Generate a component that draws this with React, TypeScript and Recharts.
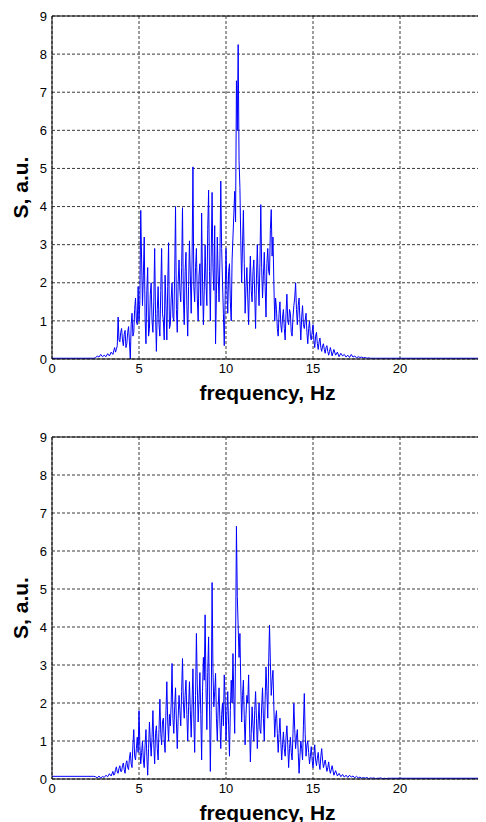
import React from "react";
import { LineChart, Line, XAxis, YAxis, CartesianGrid, ReferenceLine } from "recharts";

// Sampling grid: three segments (start Hz, step Hz)
const segStarts = [2.5, 3.5, 16.0];
const segSteps = [0.1, 0.05, 0.1];

// Upper spectrum S (a.u.)
const topSeg1 = [0.03, 0.08, 0.05, 0.12, 0.06, 0.1, 0.06, 0.14, 0.08, 0.18];
const topSeg2 = [
  0.12, 0.22, 0.3, 0.18, 0.25, 0.35, 1.1, 0.5, 0.45, 0.7,
  0.8, 0.5, 0.35, 0.65, 0.75, 0.3, 0.4, 0.7, 0.85, 0.45, 0.0, 0.9, 1.2, 0.6, 0.7, 1.3, 1.6, 1.0, 0.9, 1.9,
  1.0, 1.5, 3.9, 2.6, 1.4, 2.2, 3.2, 1.1, 0.4, 1.8, 2.4, 0.6, 0.8, 1.7, 2.0, 1.0, 0.7, 1.5, 2.9, 1.2,
  0.2, 1.3, 1.9, 0.9, 0.6, 1.8, 2.9, 1.2, 1.0, 0.5, 2.2, 1.4, 0.5, 1.9, 3.05, 0.8, 0.9, 1.6, 2.0, 1.1,
  1.0, 2.2, 4.0, 1.3, 0.7, 2.0, 2.6, 1.8, 1.5, 2.4, 3.97, 1.6, 0.9, 2.3, 2.8, 1.4, 0.6, 1.9, 3.1, 2.2,
  1.2, 2.6, 5.04, 1.9, 1.5, 2.4, 2.9, 1.6, 1.0, 2.2, 2.5, 1.4, 3.83, 2.1, 0.9, 1.8, 3.0, 2.0, 1.4, 3.4,
  4.43, 2.3, 1.0, 2.7, 4.37, 2.4, 1.8, 3.5, 0.4, 1.7, 3.2, 2.2, 1.5, 2.6, 4.67, 2.9, 2.0, 1.2, 0.35, 1.6,
  2.9, 1.9, 1.2, 2.3, 2.5, 1.5, 1.0, 2.6, 3.2, 3.8, 4.4, 3.6, 7.3, 6.0, 8.25, 5.2, 4.5, 3.1, 2.0, 3.0,
  3.9, 2.5, 1.2, 1.9, 2.4, 1.6, 0.9, 2.0, 2.7, 1.8, 1.5, 2.3, 2.6, 1.7, 0.8, 2.1, 3.0, 2.0, 1.4, 2.5,
  4.05, 2.4, 1.6, 2.2, 2.8, 1.9, 1.1, 2.5, 2.9, 2.3, 2.2, 3.4, 3.92, 2.7, 3.2, 2.0, 1.0, 1.6, 1.3, 0.8,
  0.6, 1.2, 1.5, 0.9, 0.7, 1.1, 1.3, 0.8, 0.5, 1.2, 1.7, 1.0, 0.9, 1.3, 1.2, 0.7, 0.6, 1.1, 1.4, 1.6,
  2.0, 1.3, 0.9, 1.4, 1.6, 1.0, 0.5, 1.1, 1.4, 0.9, 0.8, 1.0, 1.2, 0.7, 0.4, 0.8, 1.0, 0.6, 0.5, 0.7,
  0.9, 0.5, 0.3, 0.6, 0.7, 0.4, 0.25, 0.45, 0.55, 0.3, 0.2, 0.35, 0.4, 0.25, 0.15, 0.3, 0.35, 0.2, 0.1, 0.2,
];
const topSeg3 = [
  0.3, 0.08, 0.25, 0.1, 0.18, 0.06, 0.15, 0.08, 0.12, 0.05,
  0.1, 0.04, 0.12, 0.05, 0.08, 0.03, 0.06, 0.04, 0.05, 0.03,
  0.04, 0.02, 0.03, 0.02, 0.02, 0.02, 0.02, 0.02, 0.02, 0.02,
  0.02, 0.02, 0.02, 0.02, 0.02, 0.02,
];

// Lower spectrum S (a.u.)
const bottomSeg1 = [0.06, 0.03, 0.08, 0.02, 0.07, 0.04, 0.1, 0.06, 0.14, 0.08];
const bottomSeg2 = [
  0.2, 0.1, 0.12, 0.25, 0.32, 0.18, 0.15, 0.28, 0.35, 0.2,
  0.2, 0.35, 0.42, 0.25, 0.15, 0.4, 0.48, 0.3, 0.25, 0.55, 0.7, 0.4, 0.3, 0.9, 1.3, 0.6, 0.5, 0.8, 1.1, 0.7,
  1.8, 0.9, 0.4, 0.7, 1.0, 0.5, 0.3, 0.9, 1.3, 0.6, 0.1, 0.8, 1.5, 1.0, 0.6, 1.1, 1.8, 0.9, 0.4, 1.2,
  1.4, 0.8, 0.5, 1.3, 2.1, 1.2, 0.9, 1.5, 1.6, 1.0, 0.7, 1.8, 2.56, 1.5, 1.0, 1.7, 1.4, 2.0, 3.04, 1.6,
  1.2, 1.9, 2.4, 1.5, 0.8, 1.6, 2.2, 1.8, 1.4, 2.3, 3.17, 2.0, 1.6, 2.2, 2.6, 1.7, 1.0, 1.9, 2.56, 1.8,
  1.1, 2.0, 2.9, 1.6, 0.7, 2.2, 3.83, 2.5, 1.5, 2.1, 2.8, 1.7, 0.5, 2.3, 3.2, 2.6, 4.32, 2.4, 1.3, 2.8,
  3.74, 2.0, 0.2, 1.8, 5.17, 2.9, 1.9, 2.3, 2.78, 1.6, 1.0, 1.9, 2.4, 1.5, 0.8, 1.7, 2.0, 1.4, 2.74, 2.1,
  1.0, 1.7, 2.3, 1.4, 0.6, 1.8, 2.6, 2.0, 3.3, 2.1, 1.2, 3.5, 6.65, 4.8, 4.0, 3.2, 3.83, 2.5, 1.5, 2.2,
  2.6, 1.6, 0.9, 1.7, 2.2, 2.0, 2.74, 1.5, 0.45, 1.2, 1.9, 1.4, 1.0, 1.8, 2.3, 1.6, 0.8, 1.5, 2.0, 1.3,
  1.2, 1.9, 2.4, 1.6, 1.0, 2.1, 2.95, 2.3, 1.6, 3.0, 4.05, 3.1, 2.2, 2.6, 2.86, 1.9, 1.1, 1.6, 1.8, 1.2,
  0.7, 1.2, 1.6, 1.0, 0.5, 0.9, 1.24, 0.8, 0.6, 1.1, 1.4, 0.9, 0.3, 0.8, 1.1, 0.7, 0.5, 1.2, 1.99, 1.3,
  0.8, 1.1, 1.3, 0.7, 0.15, 0.6, 1.0, 0.8, 0.5, 1.4, 2.25, 1.2, 0.6, 0.9, 1.0, 0.7, 0.4, 0.6, 0.85, 0.5,
  0.3, 0.6, 0.9, 0.5, 0.35, 0.55, 0.7, 0.4, 0.25, 0.6, 0.8, 0.5, 0.3, 0.4, 0.5, 0.35, 0.2, 0.3, 0.45, 0.25,
];
const bottomSeg3 = [
  0.15, 0.35, 0.1, 0.22, 0.08, 0.15, 0.06, 0.12, 0.05, 0.1,
  0.04, 0.1, 0.05, 0.08, 0.03, 0.07, 0.03, 0.05, 0.02, 0.04,
  0.02, 0.04, 0.01, 0.03, 0.02, 0.03, 0.01, 0.02, 0.02, 0.03,
  0.01, 0.02, 0.01, 0.02, 0.02, 0.02,
];

// Flat parts of each spectrum outside the sampled grid
const topLeadFreq = [0, 2.4];
const topLeadS = [0.02, 0.02];
const topTailFreq = [25];
const topTailS = [0.02];
const bottomLeadFreq = [0, 2.4];
const bottomLeadS = [0.07, 0.07];
const bottomTailFreq = [25];
const bottomTailS = [0.02];

const xTicks = [0, 5, 10, 15, 20, 25];
const yTicks = [0, 1, 2, 3, 4, 5, 6, 7, 8, 9];
const xTitle = "frequency, Hz";
const yTitle = "S, a.u.";

type Row = { f: number; s: number };

function buildRows(leadF: number[], leadS: number[], segs: number[][], tailF: number[], tailS: number[]) {
  const rows: Row[] = [];
  leadF.forEach((f, i) => rows.push({ f, s: leadS[i] }));
  segs.forEach((vals, k) => {
    vals.forEach((s, i) => rows.push({ f: Math.round((segStarts[k] + i * segSteps[k]) * 100) / 100, s }));
  });
  tailF.forEach((f, i) => rows.push({ f, s: tailS[i] }));
  return rows;
}

const topRows = buildRows(topLeadFreq, topLeadS, [topSeg1, topSeg2, topSeg3], topTailFreq, topTailS);
const bottomRows = buildRows(bottomLeadFreq, bottomLeadS, [bottomSeg1, bottomSeg2, bottomSeg3], bottomTailFreq, bottomTailS);

const FONT = "'Liberation Sans', Arial, sans-serif";

const YTitle = (props: any) => {
  const vb = props.viewBox || { x: 0, y: 0, width: 0, height: 0 };
  const cy = vb.y + vb.height / 2;
  const cx = 12;
  return (
    <text
      x={cx}
      y={cy}
      transform={`rotate(-90, ${cx}, ${cy})`}
      textAnchor="middle"
      dominantBaseline="central"
      fontFamily={FONT}
      fontWeight="bold"
      fontSize={21}
      fill="#000"
    >
      {yTitle}
    </text>
  );
};

const XTitle = (props: any) => {
  const vb = props.viewBox || { x: 0, y: 0, width: 0, height: 0 };
  return (
    <text
      x={vb.x + vb.width / 2 - 2}
      y={vb.y + 33}
      textAnchor="middle"
      dominantBaseline="central"
      fontFamily={FONT}
      fontWeight="bold"
      fontSize={21}
      fill="#000"
    >
      {xTitle}
    </text>
  );
};

function Spectrum({ rows, height, margin }: { rows: Row[]; height: number; margin: any }) {
  return (
    <LineChart width={500} height={height} data={rows} margin={margin} style={{ overflow: "visible" }}>
      <CartesianGrid stroke="#3a3a3a" strokeDasharray="3 2" horizontal vertical />
      <XAxis
        dataKey="f"
        type="number"
        domain={[0, 25]}
        ticks={xTicks}
        interval={0}
        height={40}
        tickSize={0}
        tickMargin={5}
        axisLine={{ stroke: "#000", strokeWidth: 1 }}
        tick={{ fontFamily: FONT, fontSize: 13, fill: "#000" }}
        label={XTitle}
        allowDataOverflow
      />
      <YAxis
        type="number"
        domain={[0, 9]}
        ticks={yTicks}
        interval={0}
        width={30}
        tickSize={0}
        tickMargin={5}
        axisLine={{ stroke: "#000", strokeWidth: 1 }}
        tick={{ fontFamily: FONT, fontSize: 13, fill: "#000" }}
        label={YTitle}
        allowDataOverflow
      />
      <ReferenceLine y={9} stroke="#000" strokeWidth={1} />
      <ReferenceLine x={25} stroke="#000" strokeWidth={1} />
      <Line
        type="linear"
        dataKey="s"
        stroke="#0000ff"
        strokeWidth={1}
        dot={false}
        activeDot={false}
        isAnimationActive={false}
      />
    </LineChart>
  );
}

export default function App() {
  return (
    <div style={{ width: 478, overflow: "hidden", background: "#fff" }}>
      <style>{`html, body { overflow: hidden; }`}</style>
      <Spectrum rows={topRows} height={411} margin={{ top: 8, right: 21, bottom: 20, left: 14 }} />
      <Spectrum rows={bottomRows} height={403} margin={{ top: 18, right: 21, bottom: 3, left: 14 }} />
    </div>
  );
}
